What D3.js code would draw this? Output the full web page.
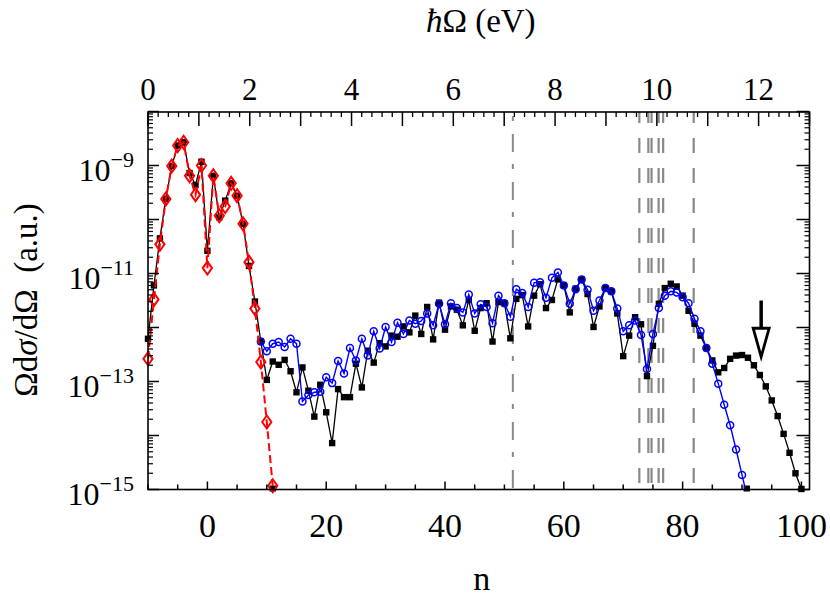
<!DOCTYPE html>
<html><head><meta charset="utf-8">
<script src="https://cdn.jsdelivr.net/npm/d3@7"></script>
<style>body{margin:0;background:#fff} svg{display:block}</style>
</head><body><svg id="c" width="830" height="600"></svg>
<script>
// ---- data (log10 of Ω dσ/dΩ, a.u.) ----
const blackStart = -10;
const blackLog10 = [
 -12.21,-11.22,-10.35,-9.62,-9.01,-8.63,-8.57,-9.14,-9.36,-8.93,
 -10.58,-9.19,-9.96,-9.65,-9.33,-9.56,-10.08,-10.86,-11.52,-12.26,
 -12.97,-12.63,-12.69,-12.60,-12.81,-13.20,-12.74,-13.17,-13.65,-13.06,
 -13.57,-14.14,-13.14,-13.29,-13.29,-12.67,-13.11,-12.43,-12.65,-12.29,
 -12.35,-12.15,-12.17,-11.98,-12.09,-11.78,-12.12,-11.62,-12.22,-11.54,
 -12.04,-11.61,-11.67,-11.96,-11.49,-12.06,-11.64,-11.55,-12.26,-11.53,
 -11.55,-12.20,-11.47,-11.40,-11.98,-11.41,-11.20,-11.64,-11.49,-11.11,
 -11.22,-11.72,-11.28,-11.11,-11.38,-11.99,-11.61,-11.27,-11.33,-11.74,
 -12.53,-12.15,-11.81,-11.94,-12.90,-12.34,-11.56,-11.27,-11.19,-11.24,
 -11.41,-11.69,-11.93,-12.15,-12.38,-12.61,-12.83,-12.75,-12.58,-12.52,
 -12.51,-12.56,-12.70,-12.88,-13.09,-13.35,-13.64,-13.97,-14.32,-14.70,
 -14.99];
const blueStart = 9;
const blueLog10 = [
 -12.26,-12.44,-12.30,-12.27,-12.36,-12.21,-12.30,-13.37,-13.25,-13.20,
 -13.19,-12.92,-13.03,-12.62,-12.85,-12.38,-12.61,-12.21,-12.52,-12.07,
 -12.39,-11.99,-12.27,-11.91,-12.12,-11.87,-11.93,-11.88,-11.74,-11.96,
 -11.56,-11.94,-11.55,-11.64,-11.72,-11.39,-11.74,-11.57,-11.62,-11.92,
 -11.41,-11.55,-11.80,-11.29,-11.36,-11.62,-11.17,-11.16,-11.45,-11.08,
 -10.98,-11.22,-11.56,-11.29,-11.11,-11.30,-11.69,-11.50,-11.27,-11.33,
 -11.65,-12.07,-11.96,-11.87,-12.14,-12.77,-12.12,-11.64,-11.41,-11.33,
 -11.35,-11.44,-11.55,-11.84,-12.07,-12.38,-12.67,-13.04,-13.43,-13.81,
 -14.26,-14.73,-15.20];
const redStart = -10;
const redLog10 = [
 -12.58,-11.48,-10.46,-9.62,-9.01,-8.63,-8.57,-9.19,-9.54,-9.00,
 -10.90,-9.19,-9.93,-9.76,-9.33,-9.56,-10.08,-10.79,-11.65,-12.64,
 -13.75,-14.93];
const edgeMarkN = [11, 90.8];           // black squares sitting on the lower axis
const levelsDashed = [9.656, 9.833, 9.896, 10.035, 10.124, 10.724]; // eV
const levelDashDot = 7.17;               // eV
const arrowE = 12.05, arrowTopLog = -11.5, arrowTipLog = -12.57;

const bottomTicks = [-10,-5,0,5,10,15,20,25,30,35,40,45,50,55,60,65,70,75,80,85,90,95,100];
const bottomLabels = [0,20,40,60,80,100];
const topMajor = [0,1,2,3,4,5,6,7,8,9,10,11,12,13];
const topLabels = [0,2,4,6,8,10,12];
const yLabelExp = [-9,-11,-13,-15];

// ---- layout ----
const L = 148, R = 809.5, T = 112, B = 489.5;
const svg = d3.select('#c');
const x = d3.scaleLinear().domain([-10, 101.36]).range([L, R]);
const xe = d3.scaleLinear().domain([0, 13]).range([L, R]);
const y = d3.scaleLog().domain([1e-15, 1e-8]).range([B, 111.5]);
const font = "'Liberation Serif','Times New Roman',serif";

svg.append('defs').append('clipPath').attr('id','pc')
  .append('rect').attr('x',L).attr('y',T).attr('width',R-L).attr('height',B-T);

// level lines
const gl = svg.append('g').attr('clip-path','url(#pc)');
gl.selectAll('line.d').data(levelsDashed).join('line')
  .attr('x1',d=>xe(d)).attr('x2',d=>xe(d)).attr('y1',T).attr('y2',B)
  .attr('stroke','#888').attr('stroke-width',2.2)
  .attr('stroke-dasharray','15,15').attr('stroke-dashoffset',4);
gl.append('line').attr('x1',xe(levelDashDot)).attr('x2',xe(levelDashDot)).attr('y1',T).attr('y2',B)
  .attr('stroke','#888').attr('stroke-width',2)
  .attr('stroke-dasharray','18,12,5,13').attr('stroke-dashoffset',26);

const mk = (start, arr) => arr.map((v,i)=>({n:start+i, v:Math.pow(10,v)}));
const blackData = mk(blackStart, blackLog10);
const blueData = mk(blueStart, blueLog10);
const redData = mk(redStart, redLog10);
const line = d3.line().x(d=>x(d.n)).y(d=>y(d.v));
const inR = d=>d.v>=1e-15*0.999;

const gd = svg.append('g');
// black
gd.append('path').attr('d',line(blackData)).attr('fill','none').attr('stroke','#000')
  .attr('stroke-width',1.3).attr('clip-path','url(#pc)');
gd.selectAll('rect.b').data(blackData.filter(inR)).join('rect')
  .attr('x',d=>x(d.n)-3.2).attr('y',d=>y(d.v)-3.2).attr('width',6.4).attr('height',6.4).attr('fill','#000');
gd.selectAll('rect.e').data(edgeMarkN).join('rect')
  .attr('x',d=>x(d)-3.2).attr('y',B-4).attr('width',6.4).attr('height',6).attr('fill','#000');
// blue
gd.append('path').attr('d',line(blueData)).attr('fill','none').attr('stroke','#00f')
  .attr('stroke-width',1.4).attr('clip-path','url(#pc)');
gd.selectAll('circle.u').data(blueData.filter(inR)).join('circle')
  .attr('cx',d=>x(d.n)).attr('cy',d=>y(d.v)).attr('r',3.5)
  .attr('fill','none').attr('stroke','#00f').attr('stroke-width',1.5);
// red
gd.append('path').attr('d',line(redData)).attr('fill','none').attr('stroke','#f00')
  .attr('stroke-width',2).attr('stroke-dasharray','8,4').attr('clip-path','url(#pc)');
gd.selectAll('path.r').data(redData.filter(inR)).join('path')
  .attr('d',d=>{const cx=x(d.n), cy=y(d.v); return `M${cx},${cy-6.5}L${cx+4.6},${cy}L${cx},${cy+6.5}L${cx-4.6},${cy}Z`;})
  .attr('fill','none').attr('stroke','#f00').attr('stroke-width',2);

// arrow
const ax = xe(arrowE), a1 = y(Math.pow(10,arrowTopLog)), a2 = y(Math.pow(10,arrowTipLog));
const ah = (a2-a1)*0.52;
svg.append('line').attr('x1',ax).attr('x2',ax).attr('y1',a1).attr('y2',a2-ah)
  .attr('stroke','#000').attr('stroke-width',3.5);
svg.append('path').attr('d',`M${ax-8},${a2-ah}L${ax+8},${a2-ah}L${ax},${a2-1.5}Z`)
  .attr('fill','#fff').attr('stroke','#000').attr('stroke-width',2.8).attr('stroke-linejoin','miter');

// frame & ticks
const ga = svg.append('g').attr('stroke','#000');
ga.append('rect').attr('x',L).attr('y',T).attr('width',R-L).attr('height',B-T)
  .attr('fill','none').attr('stroke-width',1.6);
// bottom
ga.selectAll('line.bt').data(bottomTicks).join('line')
  .attr('x1',d=>x(d)).attr('x2',d=>x(d)).attr('y1',B).attr('y2',d=>B-(d%20===0?8:5)).attr('stroke-width',1.5);
// top
const topMinor = [];
topMajor.forEach(m=>{[0.2,0.4,0.6,0.8].forEach(f=>{if(m+f<13) topMinor.push(m+f);});});
ga.selectAll('line.tt').data(topMajor).join('line')
  .attr('x1',d=>xe(d)).attr('x2',d=>xe(d)).attr('y1',T).attr('y2',T+14).attr('stroke-width',1.5);
ga.selectAll('line.tm').data(topMinor).join('line')
  .attr('x1',d=>xe(d)).attr('x2',d=>xe(d)).attr('y1',T).attr('y2',T+5).attr('stroke-width',1.3);
// left/right
const decades = [-15,-14,-13,-12,-11,-10,-9,-8];
const yMinor = [];
decades.forEach(e=>{for(let k=2;k<=9;k++){const v=k*Math.pow(10,e); if(v<1e-8) yMinor.push(v);}});
const yMaj = decades.map(e=>Math.pow(10,e));
ga.selectAll('line.lm').data(yMaj).join('line')
  .attr('x1',L).attr('x2',L+11).attr('y1',d=>y(d)).attr('y2',d=>y(d)).attr('stroke-width',1.5);
ga.selectAll('line.ln').data(yMinor).join('line')
  .attr('x1',L).attr('x2',L+5).attr('y1',d=>y(d)).attr('y2',d=>y(d)).attr('stroke-width',1.2);
ga.selectAll('line.rm').data(yMaj).join('line')
  .attr('x1',R).attr('x2',R-13).attr('y1',d=>y(d)).attr('y2',d=>y(d)).attr('stroke-width',1.5);
ga.selectAll('line.rn').data(yMinor).join('line')
  .attr('x1',R).attr('x2',R-5).attr('y1',d=>y(d)).attr('y2',d=>y(d)).attr('stroke-width',1.2);

// labels
const gt = svg.append('g').attr('font-family',font).attr('fill','#000');
gt.selectAll('text.bl').data(bottomLabels).join('text')
  .attr('x',d=>x(d)).attr('y',537).attr('text-anchor','middle').attr('font-size',34).text(d=>d);
gt.selectAll('text.tl').data(topLabels).join('text')
  .attr('x',d=>xe(d)).attr('y',100).attr('text-anchor','middle').attr('font-size',31).text(d=>d);
const yl = gt.selectAll('text.yl').data(yLabelExp).join('text')
  .attr('x',134).attr('y',d=>y(Math.pow(10,d))+15).attr('text-anchor','end').attr('font-size',32);
yl.append('tspan').text('10');
yl.append('tspan').attr('dy',-14).attr('font-size',22).text(d=>'\u2212'+(-d));

gt.append('text').attr('x',(L+R)/2+3).attr('y',590).attr('text-anchor','middle').attr('font-size',34).text('n');
const tt = gt.append('text').attr('x',(L+R)/2+2).attr('y',32).attr('text-anchor','middle').attr('font-size',33);
tt.append('tspan').attr('font-style','italic').text('\u0127');
tt.append('tspan').text('\u03A9 (eV)');
const yt = gt.append('text').attr('transform','translate(37,300) rotate(-90)').attr('text-anchor','middle').attr('font-size',33);
yt.append('tspan').text('\u03A9d');
yt.append('tspan').attr('font-style','italic').text('\u03C3');
yt.append('tspan').text('/d\u03A9\u00A0\u00A0(a.u.)');
</script></body></html>
